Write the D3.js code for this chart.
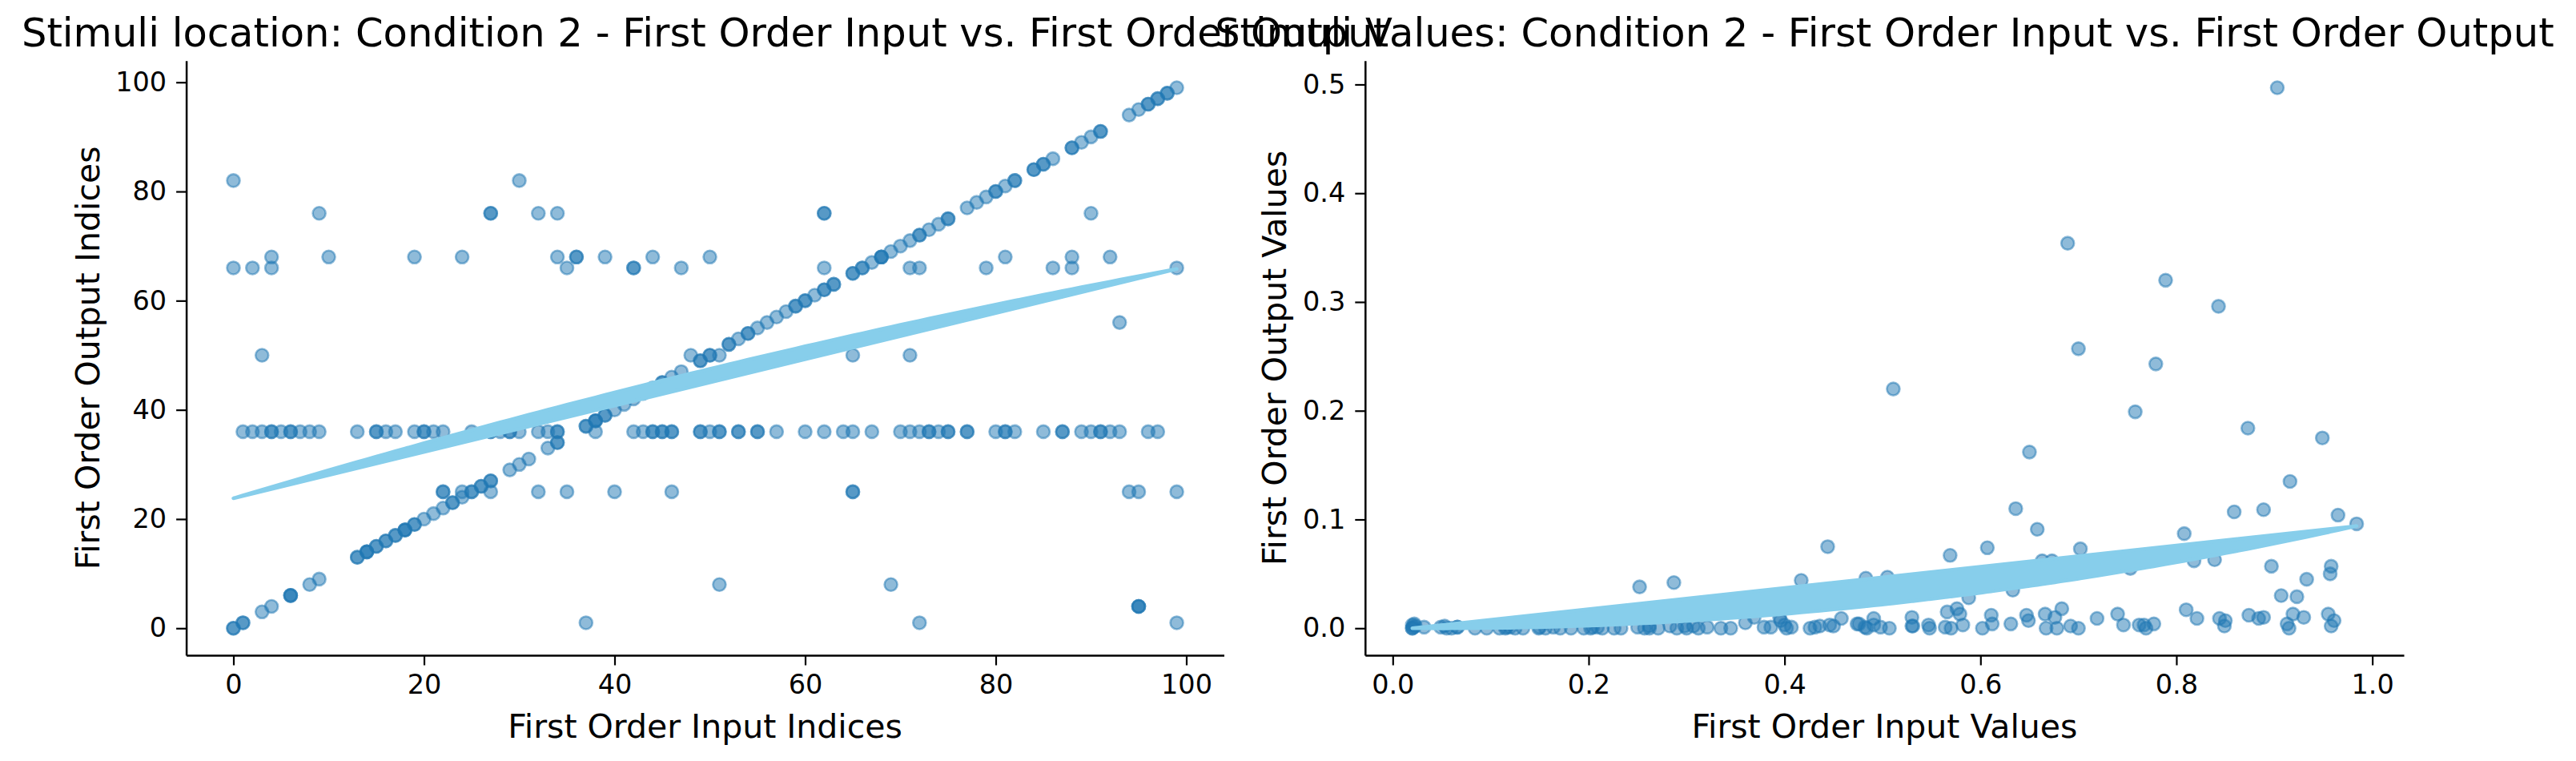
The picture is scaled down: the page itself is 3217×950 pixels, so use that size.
<!DOCTYPE html>
<meta charset="utf-8">
<style>
  body { margin: 0; background: #fff; }
</style>
<body>
<script src="https://d3js.org/d3.v7.min.js"></script>
<script>
  // ---- values ----
  // left panel: [first order input index, first order output index]
  var indexPoints = [
    [0,82],[30,82],
    [9,76],[27,76],[27,76],[32,76],[34,76],[62,76],[62,76],[90,76],
    [4,68],[10,68],[19,68],[24,68],[34,68],[36,68],[36,68],[39,68],[44,68],[50,68],[81,68],[88,68],[92,68],
    [0,66],[2,66],[4,66],[35,66],[42,66],[42,66],[47,66],[62,66],[71,66],[72,66],[79,66],[86,66],[88,66],[99,66],
    [93,56],
    [3,50],[48,50],[50,50],[51,50],[65,50],[71,50],
    [1,36],[2,36],[3,36],[4,36],[4,36],[5,36],[6,36],[6,36],[7,36],[8,36],[9,36],[13,36],[15,36],[15,36],
    [16,36],[17,36],[19,36],[20,36],[20,36],[21,36],[22,36],[25,36],[27,36],[27,36],[28,36],[29,36],[29,36],
    [30,36],[32,36],[33,36],[34,36],[34,36],[38,36],[42,36],[43,36],[44,36],[44,36],[45,36],[45,36],[46,36],
    [46,36],[49,36],[49,36],[50,36],[51,36],[51,36],[53,36],[53,36],[55,36],[55,36],[57,36],[60,36],[62,36],
    [64,36],[65,36],[67,36],[70,36],[71,36],[72,36],[73,36],[73,36],[74,36],[75,36],[75,36],[77,36],[77,36],
    [80,36],[81,36],[81,36],[82,36],[85,36],[87,36],[87,36],[89,36],[90,36],[91,36],[91,36],[92,36],[93,36],
    [96,36],[97,36],
    [22,25],[22,25],[24,25],[27,25],[32,25],[35,25],[40,25],[46,25],[65,25],[65,25],[94,25],[95,25],[99,25],
    [51,8],[69,8],[95,4],[95,4],[95,4],[37,1],[72,1],[99,1],
    [0,0],[0,0],[1,1],[1,1],[3,3],[4,4],[6,6],[6,6],[6,6],[8,8],[9,9],[13,13],[13,13],[14,14],[14,14],[14,14],
    [15,15],[15,15],[16,16],[16,16],[17,17],[17,17],[18,18],[18,18],[18,18],[19,19],[19,19],[20,20],[21,21],
    [22,22],[23,23],[23,23],[24,24],[25,25],[25,25],[26,26],[26,26],[27,27],[27,27],[29,29],[30,30],[31,31],
    [33,33],[34,34],[34,34],[37,37],[37,37],[38,38],[38,38],[38,38],[39,39],[39,39],[40,40],[41,41],[42,42],
    [43,43],[44,44],[45,45],[45,45],[46,46],[47,47],[49,49],[49,49],[50,50],[52,52],[52,52],[53,53],[54,54],
    [54,54],[55,55],[56,56],[57,57],[58,58],[59,59],[59,59],[60,60],[60,60],[61,61],[62,62],[62,62],[63,63],
    [63,63],[65,65],[65,65],[66,66],[66,66],[67,67],[68,68],[68,68],[68,68],[69,69],[70,70],[71,71],[72,72],
    [72,72],[73,73],[74,74],[75,75],[75,75],[77,77],[78,78],[79,79],[80,80],[80,80],[81,81],[82,82],[82,82],
    [84,84],[84,84],[85,85],[85,85],[86,86],[88,88],[88,88],[89,89],[90,90],[91,91],[91,91],[94,94],[95,95],
    [96,96],[96,96],[97,97],[97,97],[98,98],[98,98],[99,99]
  ];

  // right panel: [first order input value, first order output value]
  var valuePoints = [
    [0.903,0.497],[0.689,0.354],[0.789,0.320],[0.843,0.296],[0.700,0.257],[0.779,0.243],[0.511,0.220],
    [0.758,0.199],[0.873,0.184],[0.949,0.175],[0.650,0.162],[0.916,0.135],
    [0.636,0.110],[0.658,0.091],[0.569,0.067],[0.607,0.074],[0.702,0.073],[0.808,0.087],[0.859,0.107],
    [0.889,0.109],[0.965,0.104],[0.984,0.096],[0.663,0.062],[0.673,0.062],[0.753,0.055],[0.818,0.062],
    [0.839,0.063],[0.897,0.057],[0.933,0.045],[0.958,0.057],[0.957,0.050],[0.907,0.030],[0.923,0.029],
    [0.505,0.047],[0.588,0.028],[0.633,0.035],[0.252,0.038],[0.287,0.042],[0.444,0.075],[0.417,0.044],
    [0.483,0.046],
    [0.360,0.005],[0.369,0.010],[0.395,0.010],[0.458,0.009],[0.491,0.009],
    [0.020,0.003],[0.020,0.000],[0.021,0.001],[0.022,0.004],[0.020,0.000],[0.023,0.002],[0.032,0.001],
    [0.049,0.001],[0.053,0.002],[0.055,0.000],[0.060,0.000],[0.066,0.001],[0.066,0.001],[0.084,0.000],
    [0.096,0.000],[0.109,0.000],[0.115,0.000],[0.116,0.001],[0.120,0.001],[0.125,0.000],[0.133,0.000],
    [0.149,0.000],[0.150,0.001],[0.156,0.000],[0.164,0.001],[0.171,0.000],[0.182,0.000],[0.195,0.000],
    [0.202,0.000],[0.204,0.001],[0.209,0.001],[0.214,0.000],[0.226,0.000],[0.233,0.000],[0.250,0.001],
    [0.257,0.000],[0.262,0.002],[0.262,0.000],[0.271,0.000],[0.283,0.002],[0.290,0.000],[0.298,0.002],
    [0.300,0.000],[0.307,0.002],[0.312,0.000],[0.321,0.001],[0.335,0.000],[0.345,0.000],[0.379,0.001],
    [0.386,0.001],[0.396,0.007],[0.400,0.003],[0.402,0.000],[0.407,0.001],[0.426,0.000],[0.431,0.001],
    [0.436,0.002],[0.446,0.003],[0.450,0.002],[0.474,0.004],[0.476,0.004],[0.482,0.001],[0.484,0.000],
    [0.491,0.003],[0.498,0.001],[0.507,0.000],
    [0.530,0.010],[0.530,0.002],[0.531,0.002],[0.547,0.003],[0.548,0.000],[0.566,0.015],[0.564,0.001],
    [0.570,0.000],[0.576,0.018],[0.579,0.013],[0.582,0.003],[0.602,0.000],[0.611,0.012],[0.612,0.004],
    [0.631,0.004],[0.647,0.012],[0.649,0.007],[0.666,0.013],[0.667,0.000],[0.676,0.010],[0.678,0.000],
    [0.683,0.018],[0.692,0.002],[0.700,0.000],[0.719,0.009],[0.740,0.013],[0.746,0.003],[0.762,0.003],
    [0.767,0.003],[0.769,0.000],[0.777,0.004],[0.810,0.017],[0.821,0.009],[0.844,0.009],[0.850,0.007],
    [0.849,0.002],[0.874,0.012],[0.884,0.009],[0.889,0.010],[0.913,0.004],[0.915,0.000],[0.919,0.013],
    [0.930,0.010],[0.955,0.013],[0.958,0.002],[0.961,0.007]
  ];

  // quadratic fit coefficients [c0, c1, c2]
  var indexFit = [23.8, 0.5252, -0.00102];
  var valueFit = [0.000168, -0.01052, 0.1076];

  var indexTicks = [0, 20, 40, 60, 80, 100];
  var valueXTicks = [0.0, 0.2, 0.4, 0.6, 0.8, 1.0];
  var valueYTicks = [0.0, 0.1, 0.2, 0.3, 0.4, 0.5];

  // ---- drawing ----
  var svg = d3.select("body").append("svg")
      .attr("width", 3217)
      .attr("height", 950);

  var plotTop = 75.8, plotBottom = 818;
  var font = "DejaVu Sans, sans-serif";

  function drawPanel(p) {
    var g = svg.append("g");

    var xe = d3.extent(p.data, function(d) { return d[0]; }),
        ye = d3.extent(p.data, function(d) { return d[1]; }),
        xm = (xe[1] - xe[0]) * 0.05,
        ym = (ye[1] - ye[0]) * 0.05;

    var x = d3.scaleLinear().domain([xe[0] - xm, xe[1] + xm]).range([p.left, p.right]);
    var y = d3.scaleLinear().domain([ye[0] - ym, ye[1] + ym]).range([plotBottom, plotTop]);

    g.append("g").selectAll("circle")
        .data(p.data)
        .join("circle")
        .attr("cx", function(d) { return x(d[0]); })
        .attr("cy", function(d) { return y(d[1]); })
        .attr("r", 8)
        .attr("fill", "#1f77b4")
        .attr("fill-opacity", 0.5)
        .attr("stroke", "#1f77b4")
        .attr("stroke-opacity", 0.5)
        .attr("stroke-width", 2.6);

    // fit evaluated at the data's own x values, closed back along the chord
    var xs = Array.from(new Set(p.data.map(function(d) { return d[0]; }))).sort(d3.ascending);
    var fit = d3.line()
        .x(function(v) { return x(v); })
        .y(function(v) { return y(p.coef[0] + p.coef[1] * v + p.coef[2] * v * v); });

    g.append("path")
        .attr("d", fit(xs) + "Z")
        .attr("fill", "#87ceeb")
        .attr("stroke", "#87ceeb")
        .attr("stroke-width", 4.5)
        .attr("stroke-linejoin", "round");

    var xAxis = g.append("g")
        .attr("transform", "translate(0," + plotBottom + ")")
        .call(d3.axisBottom(x).tickValues(p.xTicks).tickFormat(p.fmt)
            .tickSize(12.5).tickSizeOuter(0).tickPadding(12));

    var yAxis = g.append("g")
        .attr("transform", "translate(" + p.left + ",0)")
        .call(d3.axisLeft(y).tickValues(p.yTicks).tickFormat(p.fmt)
            .tickSize(12.5).tickSizeOuter(0).tickPadding(12));

    [xAxis, yAxis].forEach(function(a) {
      a.attr("font-family", font).attr("font-size", 33.5);
      a.select(".domain").attr("stroke-width", 2.5);
      a.selectAll(".tick line").attr("stroke-width", 2.2);
      a.selectAll(".tick text").attr("fill", "#000");
    });

    var cx = (p.left + p.right) / 2;

    g.append("text")
        .attr("x", cx).attr("y", 57.7)
        .attr("text-anchor", "middle")
        .attr("font-family", font).attr("font-size", 49.6)
        .text(p.title);

    g.append("text")
        .attr("x", cx).attr("y", 921)
        .attr("text-anchor", "middle")
        .attr("font-family", font).attr("font-size", 41)
        .text(p.xLabel);

    g.append("text")
        .attr("transform", "translate(" + p.yLabelX + "," + ((plotTop + plotBottom) / 2) + ") rotate(-90)")
        .attr("text-anchor", "middle")
        .attr("font-family", font).attr("font-size", 41)
        .text(p.yLabel);
  }

  drawPanel({
    data: indexPoints, coef: indexFit,
    left: 232.6, right: 1528.5,
    xTicks: indexTicks, yTicks: indexTicks, fmt: d3.format("d"),
    title: "Stimuli location: Condition 2 - First Order Input vs. First Order Output",
    xLabel: "First Order Input Indices",
    yLabel: "First Order Output Indices",
    yLabelX: 124
  });

  drawPanel({
    data: valuePoints, coef: valueFit,
    left: 1704.8, right: 3002,
    xTicks: valueXTicks, yTicks: valueYTicks, fmt: d3.format(".1f"),
    title: "Stimuli Values: Condition 2 - First Order Input vs. First Order Output",
    xLabel: "First Order Input Values",
    yLabel: "First Order Output Values",
    yLabelX: 1606
  });
</script>
</body>
</html>
